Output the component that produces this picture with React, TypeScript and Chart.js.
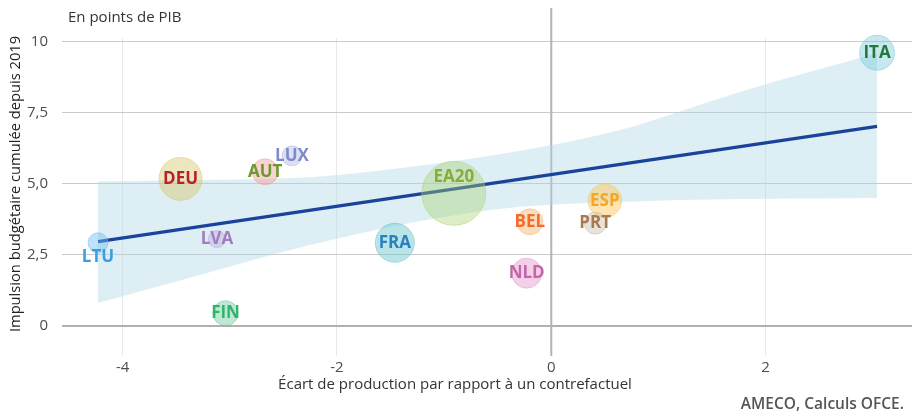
import React, { useEffect, useRef } from 'react';
import { Chart, registerables } from 'chart.js';
Chart.register(...registerables);

// ---- Données ----
const pays = ['ITA', 'DEU', 'AUT', 'LUX', 'LTU', 'LVA', 'FIN', 'EA20', 'FRA', 'BEL', 'NLD', 'ESP', 'PRT'];
const ecart = [3.04, -3.46, -2.67, -2.42, -4.23, -3.12, -3.04, -0.91, -1.46, -0.2, -0.23, 0.5, 0.41];
const impulsion = [9.62, 5.18, 5.43, 5.99, 2.93, 3.06, 0.45, 4.67, 2.93, 3.67, 1.86, 4.41, 3.62];
const poids = [17.5, 21.5, 13, 10, 10, 8.5, 12.5, 32, 19.5, 13, 15, 16.7, 11];

const regX = [-4.23, 3.04];
const regY = [2.97, 7.03];

const bandeX = [-4.23, -3.28, -2.25, -1.22, -0.29, 0.64, 1.76, 3.04];
const bandeHaut = [5.09, 5.14, 5.24, 5.65, 6.17, 6.9, 8.24, 9.6];
const bandeBas = [0.81, 1.8, 2.85, 3.7, 4.2, 4.37, 4.47, 4.51];

const xTicks = [-4, -2, 0, 2];
const xTickLabels = ['-4', '-2', '0', '2'];
const yTicks = [0, 2.5, 5, 7.5, 10];
const yTickLabels = ['0', '2,5', '5,0', '7,5', '10'];

// ---- Styles ----
const couleurTexte: Record<string, string> = {
  ITA: '#1f7a3c', DEU: '#b8202a', AUT: '#6c9a30', LUX: '#7d8acb', LTU: '#3a9fde',
  LVA: '#a27cc0', FIN: '#2fb56b', EA20: '#8aaa3c', FRA: '#2a80c0', BEL: '#f26c2b',
  NLD: '#c465a9', ESP: '#f6a623', PRT: '#a87a4e',
};
const couleurBulle: Record<string, [number, number, number, number]> = {
  ITA: [120, 200, 215, 0.42], DEU: [215, 195, 100, 0.42], AUT: [240, 150, 150, 0.42],
  LUX: [170, 180, 225, 0.42], LTU: [110, 190, 240, 0.45], LVA: [190, 160, 220, 0.38],
  FIN: [100, 200, 150, 0.42], EA20: [170, 210, 110, 0.4], FRA: [100, 195, 205, 0.45],
  BEL: [245, 180, 110, 0.45], NLD: [230, 150, 205, 0.45], ESP: [250, 195, 80, 0.45],
  PRT: [200, 185, 170, 0.4],
};
const decalage: Record<string, [number, number]> = { LTU: [0, 14], EA20: [0, -16] };

const rgba = (c: [number, number, number, number], a?: number) =>
  `rgba(${c[0]},${c[1]},${c[2]},${a ?? c[3]})`;

const FONT = "'Open Sans', 'Noto Sans', sans-serif";

export default function App() {
  const ref = useRef<HTMLCanvasElement>(null);
  useEffect(() => {
    document.body.style.margin = '0';
    const canvas = ref.current!;

    const textes = {
      id: 'textes',
      beforeDatasetsDraw(chart: any) {
        const { ctx, chartArea, scales } = chart;
        const x0 = scales.x.getPixelForValue(0);
        ctx.save();
        ctx.strokeStyle = '#b3b3b3';
        ctx.lineWidth = 2;
        ctx.beginPath();
        ctx.moveTo(x0, 8);
        ctx.lineTo(x0, chartArea.bottom);
        ctx.stroke();
        ctx.restore();
      },
      afterDatasetsDraw(chart: any) {
        const { ctx } = chart;
        const meta = chart.getDatasetMeta(0);
        ctx.save();
        ctx.font = `bold 17px ${FONT}`;
        ctx.textAlign = 'center';
        ctx.textBaseline = 'middle';
        meta.data.forEach((el: any, i: number) => {
          const p = pays[i];
          const d = decalage[p] || [0, 0];
          ctx.fillStyle = couleurTexte[p];
          ctx.fillText(p, el.x + d[0], el.y + d[1]);
        });
        ctx.restore();
      },
      afterDraw(chart: any) {
        const { ctx } = chart;
        ctx.save();
        ctx.fillStyle = '#333';
        ctx.font = `15px ${FONT}`;
        ctx.textBaseline = 'middle';
        ctx.textAlign = 'left';
        ctx.fillText('En points de PIB', 68, 18);
        ctx.textAlign = 'center';
        ctx.fillText('Écart de production par rapport à un contrefactuel', 455, 385);
        ctx.save();
        ctx.translate(16, 184);
        ctx.rotate(-Math.PI / 2);
        ctx.fillStyle = '#222';
        ctx.font = `500 14.7px ${FONT}`;
        ctx.fillText('Impulsion budgétaire cumulée depuis 2019', 0, 0);
        ctx.restore();
        ctx.font = `600 15.5px ${FONT}`;
        ctx.fillStyle = '#555';
        ctx.textAlign = 'right';
        ctx.fillText('AMECO, Calculs OFCE.', 904, 405);
        ctx.restore();
      },
    };

    const chart = new Chart(canvas, {
      type: 'bubble',
      data: {
        datasets: [
          {
            type: 'bubble',
            data: pays.map((_, i) => ({ x: ecart[i], y: impulsion[i], r: poids[i] })),
            backgroundColor: pays.map((p) => rgba(couleurBulle[p])),
            borderColor: pays.map((p) => rgba(couleurBulle[p], 0.5)),
            borderWidth: 1,
          } as any,
          {
            type: 'line',
            data: regX.map((x, i) => ({ x, y: regY[i] })),
            borderColor: '#1a449b',
            borderWidth: 3.2,
            pointRadius: 0,
            fill: false,
          } as any,
          {
            type: 'line',
            data: bandeX.map((x, i) => ({ x, y: bandeHaut[i] })),
            borderWidth: 0,
            borderColor: 'rgba(0,0,0,0)',
            backgroundColor: 'rgba(173,216,230,0.42)',
            pointRadius: 0,
            cubicInterpolationMode: 'monotone',
            fill: '+1',
          } as any,
          {
            type: 'line',
            data: bandeX.map((x, i) => ({ x, y: bandeBas[i] })),
            borderWidth: 0,
            borderColor: 'rgba(0,0,0,0)',
            pointRadius: 0,
            cubicInterpolationMode: 'monotone',
            fill: false,
          } as any,
        ],
      },
      options: {
        responsive: false,
        animation: false,
        clip: false,
        layout: { autoPadding: false, padding: { left: 0, right: 0, top: 38, bottom: 0 } },
        plugins: { legend: { display: false }, tooltip: { enabled: false } },
        scales: {
          x: {
            type: 'linear',
            min: -4.566,
            max: 3.366,
            afterBuildTicks: (s: any) => { s.ticks = xTicks.map((v) => ({ value: v })); },
            afterFit: (s: any) => { s.height = 56; },
            border: { display: false },
            grid: {
              drawTicks: false,
              color: (c: any) => (c.tick && c.tick.value === 0 ? 'rgba(0,0,0,0)' : '#e8e8e8'),
              lineWidth: 1,
            },
            ticks: {
              padding: 3,
              color: '#4d4d4d',
              font: { family: FONT, size: 15 },
              callback: (v: any) => xTickLabels[xTicks.indexOf(Number(v))] ?? '',
            },
          },
          y: {
            type: 'linear',
            min: -1.056,
            max: 10.14,
            afterBuildTicks: (s: any) => { s.ticks = yTicks.map((v) => ({ value: v })); },
            afterFit: (s: any) => { s.width = 62; },
            border: { display: false },
            grid: {
              drawTicks: false,
              color: (c: any) => (c.tick && c.tick.value === 0 ? '#b0b0b0' : '#cacaca'),
              lineWidth: (c: any) => (c.tick && c.tick.value === 0 ? 2 : 1),
            },
            ticks: {
              padding: 14,
              color: '#4d4d4d',
              font: { family: FONT, size: 15 },
              callback: (v: any) => yTickLabels[yTicks.indexOf(Number(v))] ?? '',
            },
          },
        },
      },
      plugins: [textes],
    } as any);
    return () => chart.destroy();
  }, []);
  return (
    <div style={{ width: 912, height: 412 }}>
      <canvas ref={ref} width={912} height={412} style={{ width: 912, height: 412, display: 'block' }} />
    </div>
  );
}
